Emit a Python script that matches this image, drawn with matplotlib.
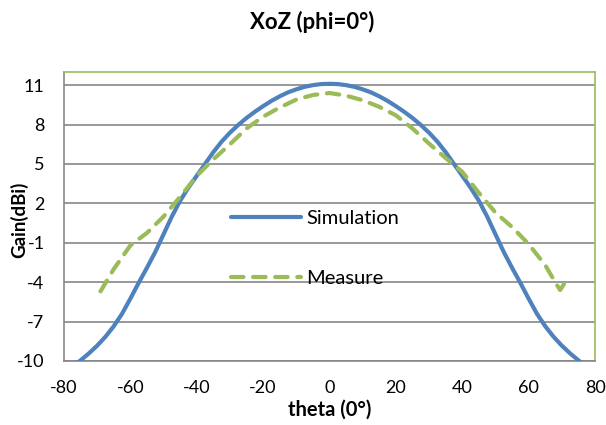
import matplotlib
matplotlib.use("Agg")
import matplotlib.pyplot as plt

# values
sim_theta = [-80, -77.5, -75, -72.5, -70, -67.5, -65, -62.5, -60, -57.5, -55, -52.5, -50, -47.5,
             -45, -42.5, -40, -37.5, -35, -32.5, -30, -27.5, -25, -22.5, -20, -17.5, -15, -12.5,
             -10, -7.5, -5, -2.5, 0, 2.5, 5, 7.5, 10, 12.5, 15, 17.5, 20, 22.5, 25, 27.5, 30,
             32.5, 35, 37.5, 40, 42.5, 45, 47.5, 50, 52.5, 55, 57.5, 60, 62.5, 65, 67.5, 70,
             72.5, 75, 77.5, 80]
sim_gain = [-10.9, -10.45, -9.95, -9.42, -8.83, -8.15, -7.35, -6.4, -5.25, -4.05, -2.9, -1.7, -0.35, 1.0,
            2.2, 3.2, 4.1, 5.0, 5.9, 6.7, 7.38, 7.97, 8.5, 8.97, 9.4, 9.8, 10.15, 10.45,
            10.68, 10.87, 11.0, 11.08, 11.1, 11.08, 11.0, 10.87, 10.68, 10.45, 10.15, 9.8, 9.4, 8.97, 8.5, 7.97, 7.38,
            6.7, 5.9, 5.0, 4.1, 3.2, 2.2, 1.0, -0.35, -1.7, -2.9, -4.05, -5.25, -6.4, -7.35, -8.15, -8.83,
            -9.42, -9.95, -10.45, -10.9]

meas_theta = [-69, -65, -60, -55, -50, -45, -40, -35, -30, -25, -20, -15, -10, -5, 0,
              5, 10, 15, 20, 25, 30, 35, 40, 45, 50, 55, 60, 65, 68, 69.5, 71]
meas_gain = [-4.7, -3.0, -1.2, -0.25, 1.0, 2.5, 4.1, 5.35, 6.5, 7.7, 8.6, 9.3, 9.9, 10.25, 10.4,
             10.2, 9.85, 9.35, 8.7, 7.7, 6.55, 5.45, 4.4, 2.8, 1.3, 0.2, -1.1, -2.7, -4.0, -4.6, -4.0]

y_ticks = [-10, -7, -4, -1, 2, 5, 8, 11]
x_ticks = [-80, -60, -40, -20, 0, 20, 40, 60, 80]

plt.rcParams['font.family'] = ['Lato', 'DejaVu Sans']
plt.rcParams['axes.unicode_minus'] = False

fig = plt.figure(figsize=(6.06, 4.25), dpi=100)
ax = fig.add_axes([64 / 606, 1 - 361 / 425, 531 / 606, 289 / 425])

ax.plot(sim_theta, sim_gain, color='#4F81BD', lw=3, label='Simulation', zorder=3,
        solid_capstyle='round', solid_joinstyle='round')
ax.plot(meas_theta, meas_gain, color='#9BBB59', lw=3, dashes=(3, 2.3),
        dash_capstyle='round', dash_joinstyle='round', label='Measure', zorder=4)

ax.set_xlim(-80, 80)
ax.set_ylim(-10, 12)
ax.set_xticks(x_ticks)
ax.set_yticks(y_ticks)
ax.tick_params(length=0, labelsize=13, pad=14)
ax.grid(axis='y', color='#868686', lw=1.2)
ax.set_axisbelow(True)

for side in ['top', 'right']:
    ax.spines[side].set_color('#9BBB59')
    ax.spines[side].set_linewidth(1.2)
for side in ['left', 'bottom']:
    ax.spines[side].set_color('#868686')
    ax.spines[side].set_linewidth(1.2)

fig.text(312 / 606, 1 - 22 / 425, 'XoZ (phi=0°)', fontsize=16, fontweight='bold',
         ha='center', va='center')
ax.set_xlabel('theta (0°)', fontsize=14.5, fontweight='bold')
ax.xaxis.set_label_coords(0.5, -0.135)
ax.set_ylabel('Gain(dBi)', fontsize=13.5, fontweight='bold')
ax.yaxis.set_label_coords(-0.068, 0.488)

ax.legend(loc='center left', bbox_to_anchor=(0.314, 0.389), frameon=False,
          fontsize=14.5, handlelength=3.5, handletextpad=0.25, labelspacing=2.15,
          borderpad=0, borderaxespad=0)

fig.savefig('out.png', dpi=100)
